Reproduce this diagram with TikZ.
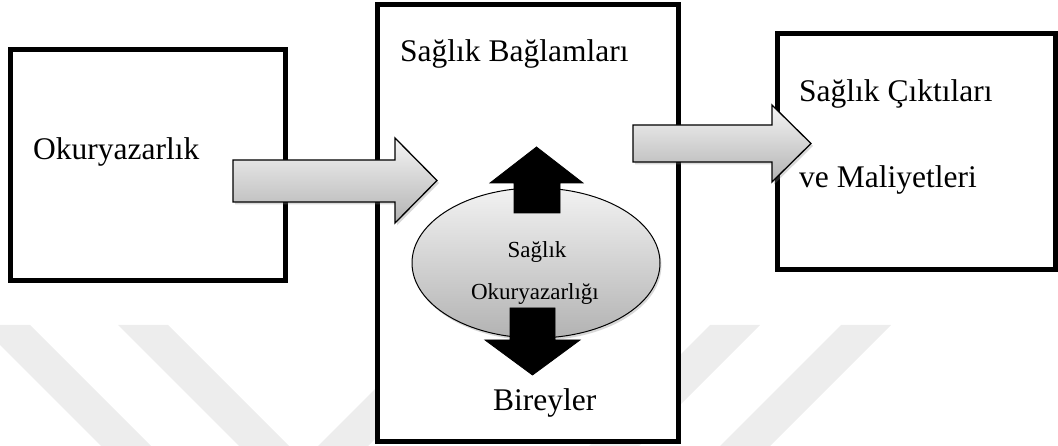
\documentclass[tikz,border=0pt]{standalone}
\usepackage{fontspec}
\setmainfont{Liberation Serif}
\usetikzlibrary{shadows,shapes.geometric}
\begin{document}
\begin{tikzpicture}[x=1pt,y=-1pt,
  box/.style={draw=black,line width=5pt,fill=white,inner sep=0pt,
    drop shadow={shadow xshift=1.5pt,shadow yshift=-1.5pt,opacity=0.3}},
  lbl/.style={anchor=base west,inner sep=0pt,font=\fontsize{31.5}{36}\selectfont},
  small/.style={anchor=base,inner sep=0pt,font=\fontsize{23}{27}\selectfont},
  greyarrow/.style={draw=black,line width=1.3pt,line join=miter,
    top color=black!4,bottom color=black!30,
    drop shadow={shadow xshift=2pt,shadow yshift=-2.5pt,opacity=0.3}},
  blackarrow/.style={fill=black,draw=black,line width=0.8pt},
  wm/.style={fill=black!7}]
\useasboundingbox (0,0) rectangle (1058,446);
% faint watermark
\begin{scope}
  \clip (0,325) rectangle (1058,446);
  \fill[wm] (-20,325) -- (30,325) -- (151,446) -- (101,446) -- cycle;
  \fill[wm] (118,325) -- (168,325) -- (289,446) -- (239,446) -- cycle;
  \fill[wm] (318,446) -- (368,446) -- (489,325) -- (439,325) -- cycle;
  \fill[wm] (710,325) -- (760,325) -- (639,446) -- (589,446) -- cycle;
  \fill[wm] (841,325) -- (891,325) -- (770,446) -- (720,446) -- cycle;
\end{scope}
% boxes
\node[box,minimum width=274.5pt,minimum height=231pt] (lit) at (147.75,165.5) {};
\node[box,minimum width=301pt,minimum height=436pt] (ctx) at (527.5,223) {};
\node[box,minimum width=278pt,minimum height=236pt] (out) at (916,152) {};
% grey block arrows
\path[greyarrow] (233,160) -- (395,160) -- (395,138) -- (437,180.5) -- (395,223) -- (395,202) -- (233,202) -- cycle;
\path[greyarrow] (633,125) -- (772,125) -- (772,105) -- (811,143.5) -- (772,182) -- (772,162) -- (633,162) -- cycle;
% ellipse
\node[draw=black,line width=1pt,ellipse,minimum width=248pt,minimum height=150pt,inner sep=0pt,
  top color=black!5,bottom color=black!30,
  drop shadow={shadow xshift=1.5pt,shadow yshift=-2.5pt,opacity=0.3}] (hl) at (536,263) {};
% black arrows
\path[blackarrow] (514,213) -- (514,183) -- (490,183) -- (536.5,147) -- (583,183) -- (560,183) -- (560,213) -- cycle;
\path[blackarrow] (510,308) -- (555,308) -- (555,340) -- (580,340) -- (532.5,375) -- (485,340) -- (510,340) -- cycle;
% texts
\node[lbl] (t1) at (33,160) {Okuryazarlık};
\node[lbl] (t2) at (400,62) {Sağlık Bağlamları};
\node[lbl] (t3) at (799,102) {Sağlık Çıktıları};
\node[lbl] (t4) at (799,188) {ve Maliyetleri};
\node[lbl] (t5) at (493,410) {Bireyler};
\node[small] (e1) at (537,258) {Sağlık};
\node[small] (e2) at (535,300) {Okuryazarlığı};
\end{tikzpicture}
\end{document}
